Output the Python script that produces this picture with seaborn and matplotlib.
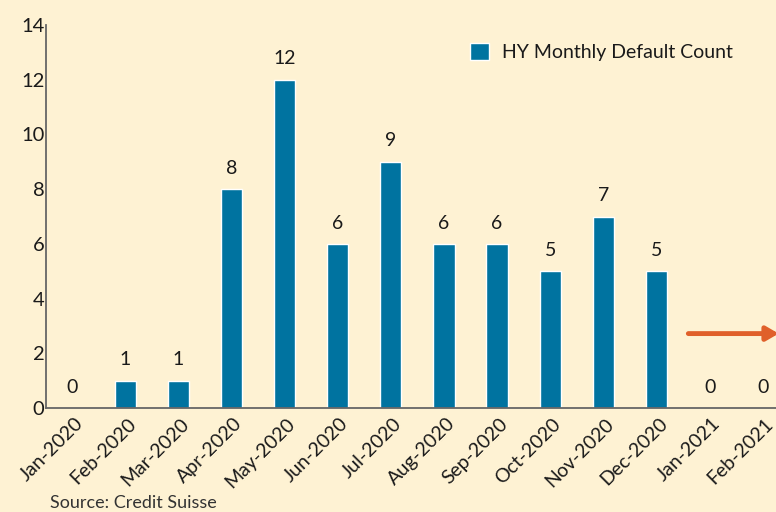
import matplotlib
matplotlib.use("Agg")
import matplotlib.pyplot as plt
import matplotlib.transforms as mtransforms
import seaborn as sns
import pandas as pd

months = ["Jan-2020", "Feb-2020", "Mar-2020", "Apr-2020", "May-2020", "Jun-2020",
          "Jul-2020", "Aug-2020", "Sep-2020", "Oct-2020", "Nov-2020", "Dec-2020",
          "Jan-2021", "Feb-2021"]
defaults = [0, 1, 1, 8, 12, 6, 9, 6, 6, 5, 7, 5, 0, 0]
yticks = [0, 2, 4, 6, 8, 10, 12, 14]

BG = "#FEF2D3"
BAR = "#0073A0"
ARROW = "#E0602A"

sns.set_theme(style="white")
plt.rcParams["font.family"] = ["Lato", "DejaVu Sans"]

fig = plt.figure(figsize=(7.76, 5.12), dpi=100, facecolor=BG)
ax = fig.add_axes([46 / 776, 1 - 408 / 512, (776 - 46) / 776, (408 - 25) / 512])
ax.set_facecolor(BG)

df = pd.DataFrame({"Month": months, "Count": defaults})
sns.barplot(data=df, x="Month", y="Count", color=BAR, width=0.4, saturation=1,
            ax=ax, label="HY Monthly Default Count")

for i, v in enumerate(defaults):
    ax.text(i, v + 0.45, str(v), ha="center", va="bottom", fontsize=14, color="#1a1a1a")

ax.set_ylim(0, 14)
ax.set_xlim(-0.49, 13.25)
ax.set_yticks(yticks)
ax.set_yticklabels([str(t) for t in yticks], fontsize=14.5, color="#1a1a1a")
ax.tick_params(axis="y", length=0, pad=1)
ax.tick_params(axis="x", length=0, pad=5)
ax.set_xticks(range(len(months)))
ax.set_xticklabels(months, rotation=45, ha="right", rotation_mode="anchor",
                   fontsize=14, color="#1a1a1a")
offset = mtransforms.ScaledTranslation(2 / 100, 0, fig.dpi_scale_trans)
for lbl in ax.get_xticklabels():
    lbl.set_transform(lbl.get_transform() + offset)
ax.set_xlabel("")
ax.set_ylabel("")

for s in ["top", "right"]:
    ax.spines[s].set_visible(False)
for s in ["left", "bottom"]:
    ax.spines[s].set_color("#666666")
    ax.spines[s].set_linewidth(1.3)

ax.annotate("", xy=(13.3, 2.72), xytext=(11.6, 2.72),
            arrowprops=dict(arrowstyle="-|>,head_length=0.6,head_width=0.35",
                            color=ARROW, lw=3.5, shrinkA=0, shrinkB=0),
            annotation_clip=False)

leg = ax.legend(loc="upper right", bbox_to_anchor=(0.965, 1.0), frameon=False,
                fontsize=14, handlelength=1.0, handleheight=1.0, handletextpad=0.65)
for t in leg.get_texts():
    t.set_color("#1a1a1a")

fig.text(50 / 776, 1 - 503 / 512, "Source: Credit Suisse", fontsize=13,
         color="#333333", ha="left", va="center")

fig.savefig("out.png", dpi=100, facecolor=BG)
